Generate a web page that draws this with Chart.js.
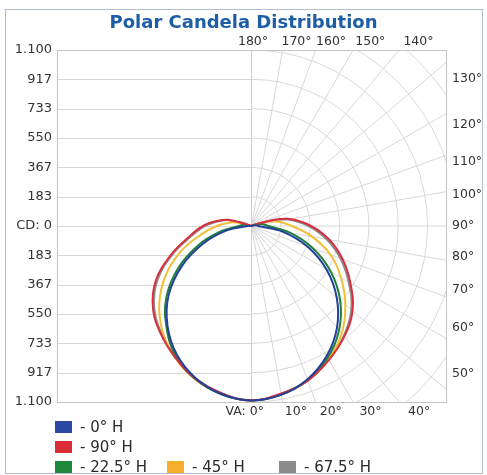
<!DOCTYPE html>
<html>
<head>
<meta charset="utf-8">
<script src="https://cdn.jsdelivr.net/npm/chart.js@4.4.0/dist/chart.umd.min.js"></script>
<style>
  html, body { margin: 0; padding: 0; background: #fff; }
  #wrap { position: relative; width: 487px; height: 475px; }
  #frame { position: absolute; left: 5px; top: 9px; width: 476px; height: 463px; border: 1px solid #b2bdd0; }
  canvas { position: absolute; left: 0; top: 0; }
</style>
</head>
<body>
<div id="wrap">
  <div id="frame"></div>
  <canvas id="polar-chart" width="487" height="475"></canvas>
</div>
<script>
// vertical angles (0 = straight down) the candela values are read at
const vAngles = [0, 10, 20, 30, 40, 50, 60, 70, 80, 90, 100, 105, 110, 115]

// candela per plane, right half of the plot and the opposite plane on the left half
const cd0 = [1090, 1072, 1022, 942, 835, 700, 545, 375, 200, 45, 30, 15, 0, 0]
const cd0Opp = [1090, 1066, 1012, 928, 812, 672, 498, 315, 150, 20, 10, 0, 0, 0]
const cd90 = [1090, 1065, 1030, 970, 905, 828, 718, 610, 497, 375, 248, 145, 30, 0]
const cd90Opp = [1090, 1062, 1015, 948, 878, 800, 688, 535, 395, 300, 200, 150, 45, 0]
const cd22 = [1090, 1072, 1028, 955, 855, 728, 578, 415, 250, 110, 70, 40, 5, 0]
const cd22Opp = [1090, 1068, 1018, 940, 822, 690, 525, 350, 190, 75, 45, 25, 0, 0]
const cd45 = [1090, 1070, 1030, 965, 880, 770, 650, 530, 390, 255, 165, 90, 15, 0]
const cd45Opp = [1090, 1065, 1020, 950, 860, 748, 615, 468, 320, 215, 130, 80, 15, 0]
const cd67 = [1090, 1068, 1030, 968, 900, 818, 705, 595, 480, 360, 235, 135, 25, 0]
const cd67Opp = [1090, 1060, 1013, 945, 872, 790, 675, 523, 382, 288, 190, 140, 40, 0]

const seriesNames = ['- 0° H', '- 90° H', '- 22.5° H', '- 45° H', '- 67.5° H']
const seriesColors = ['#2d4aa3', '#dc2c38', '#1d8a3c', '#f6ae2c', '#8c8c8c']  // legend boxes
const lineColors = ['#23409a', '#d8303f', '#1f7f3b', '#f2bf3a', '#8c8c8c']

// left axis
const cdTicks = [1100, 917, 733, 550, 367, 183, 0, -183, -367, -550, -733, -917, -1100]
const cdTickLabels = ['1.100', '917', '733', '550', '367', '183', 'CD: 0', '183', '367', '550', '733', '917', '1.100']

// angle labels round the polar grid
const topAngles = [180, 170, 160, 150, 140]
const sideAngles = [130, 120, 110, 100, 90, 80, 70, 60, 50]
const bottomAngles = [0, 10, 20, 30, 40]

const ringStep = 1100 / 6
const legendRows = [[0], [1], [2, 3, 4]]

// turn one plane (+ its opposite) into x/y points, left half first
function polarPoints(side, opposite) {
    let pts = []
    for (let i = vAngles.length - 1; i >= 0; i--) {
        let a = vAngles[i] * Math.PI / 180
        pts.push({ x: -opposite[i] * Math.sin(a), y: -opposite[i] * Math.cos(a) })
    }
    for (let i = 1; i < vAngles.length; i++) {
        let a = vAngles[i] * Math.PI / 180
        pts.push({ x: side[i] * Math.sin(a), y: -side[i] * Math.cos(a) })
    }
    return pts
}

let planes = [[cd0, cd0Opp], [cd90, cd90Opp], [cd22, cd22Opp], [cd45, cd45Opp], [cd67, cd67Opp]]

let datasets = planes.map(function(p, i) {
    return {
        label: seriesNames[i],
        data: polarPoints(p[0], p[1]),
        borderColor: lineColors[i],
        backgroundColor: seriesColors[i],
        borderWidth: 2,
        showLine: true,
        pointRadius: 0,
        tension: 0.4,
        fill: false
    }
})

function seg(ctx, x1, y1, x2, y2) {
    ctx.beginPath()
    ctx.moveTo(x1, y1)
    ctx.lineTo(x2, y2)
    ctx.stroke()
}

// grid: plain lines on the left, polar web on the right
let polarGrid = {
    id: 'polarGrid',
    beforeDatasetsDraw(chart) {
        let ctx = chart.ctx
        let a = chart.chartArea
        let x = chart.scales.x, y = chart.scales.y
        let cx = Math.round(x.getPixelForValue(0)) + 0.5
        let cy = y.getPixelForValue(0)
        let pxPerCd = (y.getPixelForValue(0) - y.getPixelForValue(1100)) / 1100

        ctx.save()
        ctx.lineWidth = 1
        ctx.strokeStyle = '#d6d6d6'
        cdTicks.forEach(function(v) {
            let py = Math.round(y.getPixelForValue(v)) + 0.5
            seg(ctx, a.left, py, cx, py)
        })

        ctx.save()
        ctx.beginPath()
        ctx.rect(cx, a.top, a.right - cx, a.bottom - a.top)
        ctx.clip()
        ctx.strokeStyle = '#d8d8d8'
        for (let k = 1; k <= 9; k++) {
            ctx.beginPath()
            ctx.arc(cx, cy, k * ringStep * pxPerCd, -Math.PI / 2, Math.PI / 2)
            ctx.stroke()
        }
        for (let deg = 10; deg < 180; deg += 10) {
            let r = deg * Math.PI / 180
            seg(ctx, cx, cy, cx + Math.sin(r) * 400, cy + Math.cos(r) * 400)
        }
        ctx.restore()

        ctx.strokeStyle = '#cfcfcf'
        seg(ctx, cx, a.top, cx, a.bottom)
        ctx.strokeStyle = '#c4c4c4'
        ctx.strokeRect(Math.round(a.left) + 0.5, Math.round(a.top) + 0.5, Math.round(a.right - a.left), Math.round(a.bottom - a.top))
        ctx.restore()
    },
    afterDraw(chart) {
        let ctx = chart.ctx
        let a = chart.chartArea
        let cx = chart.scales.x.getPixelForValue(0)
        let cy = chart.scales.y.getPixelForValue(0)

        ctx.save()
        ctx.fillStyle = '#333'
        ctx.font = '12.5px "DejaVu Sans"'
        ctx.textBaseline = 'middle'

        // top row
        let topY = a.top - 8
        topAngles.forEach(function(deg) {
            let dx = (cy - topY) * Math.tan((180 - deg) * Math.PI / 180)
            if (deg == 180) {
                ctx.textAlign = 'center'
                ctx.fillText(deg + '°', cx + 2, topY)
            } else {
                ctx.textAlign = 'left'
                ctx.fillText(deg + '°', cx + dx - 2, topY)
            }
        })

        // right side
        ctx.textAlign = 'left'
        sideAngles.forEach(function(deg) {
            let dy = (a.right - cx) * Math.tan((deg - 90) * Math.PI / 180)
            ctx.fillText(deg + '°', a.right + 6, cy - dy * 0.9)
        })

        // bottom row
        let botY = a.bottom + 10
        bottomAngles.forEach(function(deg) {
            let dx = (botY - cy) * Math.tan(deg * Math.PI / 180)
            if (deg == 0) {
                ctx.textAlign = 'right'
                ctx.fillText('VA: 0°', cx + 13, botY)
            } else {
                ctx.textAlign = 'left'
                ctx.fillText(deg + '°', cx + dx + 1, botY)
            }
        })

        // legend
        ctx.font = '15px "DejaVu Sans"'
        ctx.textAlign = 'left'
        legendRows.forEach(function(row, r) {
            let rowY = a.bottom + 25 + r * 20
            row.forEach(function(idx, c) {
                let lx = 55 + c * 112
                ctx.fillStyle = seriesColors[idx]
                ctx.fillRect(lx, rowY - 6, 17, 12)
                ctx.fillStyle = '#2a2a2a'
                ctx.fillText(seriesNames[idx], lx + 25, rowY + 1)
            })
        })
        ctx.restore()
    }
}

Chart.defaults.font.family = '"DejaVu Sans"'

let ctx = document.querySelector('#polar-chart').getContext('2d')

let polarChart = new Chart(ctx, {
    type: 'scatter',
    data: { datasets: datasets },
    options: {
        responsive: false,
        animation: false,
        layout: { padding: { left: 0, right: 0, top: 0, bottom: 73 } },
        scales: {
            x: { type: 'linear', display: false, min: -1212.5, max: 1218.75 },
            y: {
                type: 'linear',
                min: -1100,
                max: 1100,
                grid: { display: false, drawTicks: false },
                border: { display: false },
                afterBuildTicks: function(scale) {
                    scale.ticks = cdTicks.map(function(v) { return { value: v } })
                },
                afterFit: function(scale) { scale.width = 57 },
                ticks: {
                    autoSkip: false,
                    padding: 5,
                    color: '#333',
                    font: { size: 13 },
                    callback: function(value, index) { return cdTickLabels[index] }
                }
            },
            yRight: {
                position: 'right',
                display: true,
                grid: { display: false, drawTicks: false },
                border: { display: false },
                ticks: { display: false },
                afterFit: function(scale) { scale.width = 41 }
            }
        },
        plugins: {
            legend: { display: false },
            tooltip: { enabled: false },
            title: {
                display: true,
                text: 'Polar Candela Distribution',
                color: '#1e5ea6',
                font: { size: 18, weight: 'bold' },
                padding: { top: 13, bottom: 15.4 }
            }
        }
    },
    plugins: [polarGrid]
})
</script>
</body>
</html>
